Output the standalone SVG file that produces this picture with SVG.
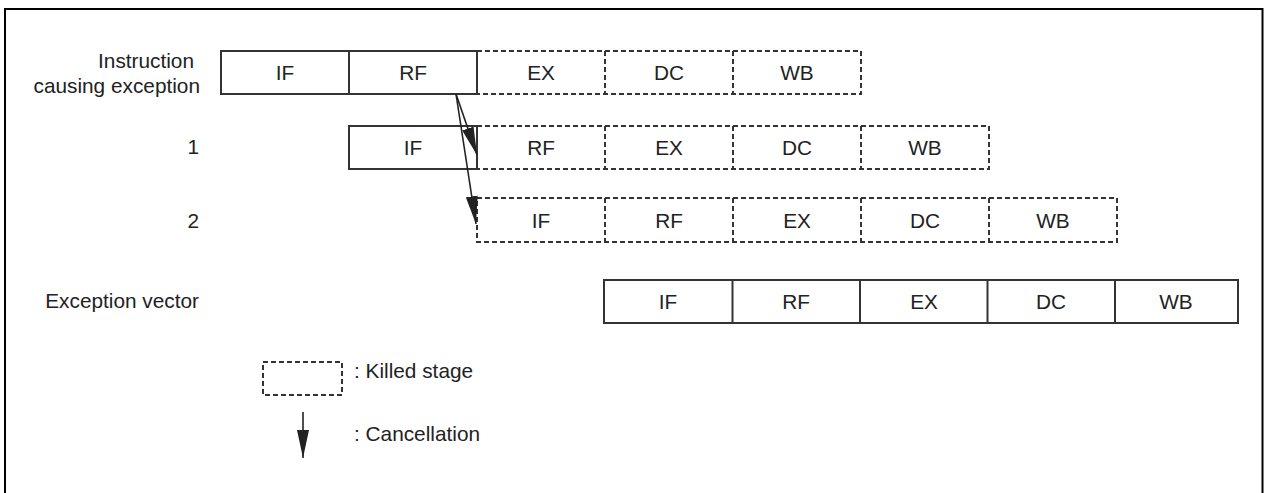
<svg xmlns="http://www.w3.org/2000/svg" width="1265" height="493" viewBox="0 0 1265 493">
<defs>
<style>
text{font-family:"Liberation Sans",Arial,sans-serif;font-size:20.8px;fill:#222}
.c{text-anchor:middle}
.r{text-anchor:end}
.s{fill:none;stroke:#333;stroke-width:2}
.d{fill:none;stroke:#333;stroke-width:2;stroke-dasharray:5 3}
.a{stroke:#222;stroke-width:1.6;fill:none}
</style>
<marker id="ah" markerUnits="userSpaceOnUse" markerWidth="28" markerHeight="12" refX="28" refY="6" orient="auto">
<path d="M0,0 L28,6 L0,12 z" fill="#222"/>
</marker>
</defs>
<rect width="1265" height="493" fill="#fff"/>
<path d="M5,500 V9 H1262.5 V500" fill="none" stroke="#000" stroke-width="2"/>

<g id="labels">
<text class="r" x="194" y="68">Instruction</text>
<text class="r" x="200" y="93">causing exception</text>
<text class="r" x="199" y="154">1</text>
<text class="r" x="199" y="228">2</text>
<text class="r" x="199" y="308">Exception vector</text>
</g>

<g id="row1">
<path class="d" d="M477,51 H861 V94 H477 M605,51 V94 M733,51 V94"/>
<rect class="s" x="221" y="51" width="256" height="43"/>
<line class="s" x1="349" y1="51" x2="349" y2="94"/>
<text class="c" x="285" y="80">IF</text>
<text class="c" x="413" y="80">RF</text>
<text class="c" x="541" y="80">EX</text>
<text class="c" x="669" y="80">DC</text>
<text class="c" x="797" y="80">WB</text>
</g>

<g id="row2">
<path class="d" d="M477,126 H989 V169 H477 M605,126 V169 M733,126 V169 M861,126 V169"/>
<rect class="s" x="349" y="126" width="128" height="43"/>
<text class="c" x="413" y="155">IF</text>
<text class="c" x="541" y="155">RF</text>
<text class="c" x="669" y="155">EX</text>
<text class="c" x="797" y="155">DC</text>
<text class="c" x="925" y="155">WB</text>
</g>

<g id="row3">
<path class="d" d="M477,198 H1117 V242 H477 Z M605,198 V242 M733,198 V242 M861,198 V242 M989,198 V242"/>
<text class="c" x="541" y="228">IF</text>
<text class="c" x="669" y="228">RF</text>
<text class="c" x="797" y="228">EX</text>
<text class="c" x="925" y="228">DC</text>
<text class="c" x="1053" y="228">WB</text>
</g>

<g id="row4">
<rect class="s" x="604" y="280" width="634" height="43"/>
<path class="s" d="M732.5,280 V323 M860,280 V323 M987.5,280 V323 M1115,280 V323"/>
<text class="c" x="668" y="309">IF</text>
<text class="c" x="796" y="309">RF</text>
<text class="c" x="924" y="309">EX</text>
<text class="c" x="1051" y="309">DC</text>
<text class="c" x="1176" y="309">WB</text>
</g>

<g id="connectors">
<line class="a" x1="456" y1="94" x2="477" y2="155" marker-end="url(#ah)"/>
<line class="a" x1="456" y1="94" x2="476" y2="224" marker-end="url(#ah)"/>
</g>

<g id="legend">
<rect class="d" x="263" y="362" width="79" height="33"/>
<text x="354" y="378">: Killed stage</text>
<line class="a" x1="303" y1="412" x2="303" y2="458" marker-end="url(#ah)"/>
<text x="354" y="441">: Cancellation</text>
</g>
</svg>
